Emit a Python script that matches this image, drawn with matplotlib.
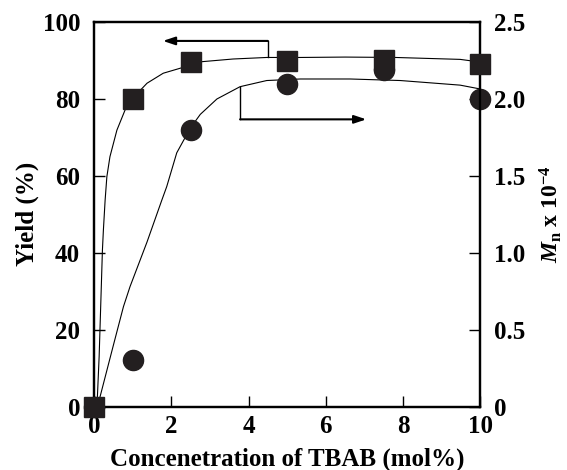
import numpy as np
import matplotlib
matplotlib.use('Agg')
import matplotlib.pyplot as plt

plt.rcParams['font.family'] = ['Liberation Serif', 'DejaVu Serif']
plt.rcParams['font.weight'] = 'bold'
plt.rcParams['mathtext.fontset'] = 'custom'
plt.rcParams['mathtext.rm'] = 'Liberation Serif:bold'
plt.rcParams['mathtext.it'] = 'Liberation Serif:bold:italic'
plt.rcParams['mathtext.bf'] = 'Liberation Serif:bold'

# measured points
tbab = [0, 1, 2.5, 5, 7.5, 10]
yield_pct = [0, 80, 89.7, 89.9, 90.1, 89.0]
mn = [0, 0.30, 1.80, 2.10, 2.19, 2.00]

# guide curves
yield_curve_x = [0, 0.085, 0.13, 0.17, 0.215, 0.24, 0.285, 0.33, 0.41, 0.59, 0.80,
                 1.0, 1.37, 1.79, 2.23, 2.79, 3.6, 4.47, 5.34, 6.5, 7.80, 9.48, 10]
yield_curve_y = [0, 2.6, 13.0, 26.0, 40.7, 45.9, 53.7, 59.8, 65.0, 71.9, 77.1,
                 80.2, 84.1, 86.7, 88.0, 89.7, 90.4, 90.8, 90.8, 90.9, 90.8, 90.3, 89.6]
mn_curve_x = [0.05, 0.155, 0.50, 0.76, 0.93, 1.37, 1.75, 1.88, 2.14, 2.49, 2.75,
              3.18, 3.78, 4.47, 5.34, 6.63, 7.93, 9.48, 10]
mn_curve_y = [0, 0.065, 0.40, 0.65, 0.78, 1.07, 1.34, 1.43, 1.65, 1.81, 1.90,
              2.00, 2.08, 2.12, 2.13, 2.13, 2.12, 2.09, 2.065]

fs = 18

fig = plt.figure(figsize=(5.67, 4.70), dpi=100)
ax = fig.add_axes([0.166, 0.135, 0.681, 0.818])
ax2 = ax.twinx()
ax.set_zorder(ax2.get_zorder() + 1)
ax.patch.set_visible(False)

# Mn on right axis
ax2.plot(mn_curve_x, mn_curve_y, color='black', lw=0.8)
ax2.plot(tbab, mn, 'o', color='#231f20', markersize=14.5, clip_on=False, zorder=5)

# yield on left axis
ax.plot(yield_curve_x, yield_curve_y, color='black', lw=0.8)
ax.plot(tbab, yield_pct, 's', color='#231f20', markersize=15, clip_on=False, zorder=5)

# arrows
ax.plot([4.5, 4.5], [90.8, 95.1], color='black', lw=1.0)
ax.annotate('', xy=(1.78, 95.1), xytext=(4.5, 95.1),
            arrowprops=dict(arrowstyle='-|>,head_length=0.6,head_width=0.2', color='black',
                            lw=1.5, mutation_scale=12, shrinkA=0, shrinkB=0))
ax.plot([3.78, 3.78], [74.7, 83.2], color='black', lw=1.0)
ax.annotate('', xy=(7.05, 74.7), xytext=(3.78, 74.7),
            arrowprops=dict(arrowstyle='-|>,head_length=0.6,head_width=0.2', color='black',
                            lw=1.5, mutation_scale=12, shrinkA=0, shrinkB=0))

ax.set_xlim(0, 10)
ax.set_ylim(0, 100)
ax2.set_ylim(0, 2.5)
ax.set_xticks([0, 2, 4, 6, 8, 10])
ax.set_yticks([0, 20, 40, 60, 80, 100])
ax2.set_yticks([0, 0.5, 1.0, 1.5, 2.0, 2.5])
ax2.set_yticklabels(['0', '0.5', '1.0', '1.5', '2.0', '2.5'])

for a in (ax, ax2):
    for s in a.spines.values():
        s.set_linewidth(1.6)
ax.tick_params(axis='x', direction='in', length=8, width=1.0, labelsize=fs, pad=6)
ax.tick_params(axis='y', direction='in', length=8, width=1.0, labelsize=fs, pad=10)
ax2.tick_params(axis='y', direction='in', length=8, width=1.0, labelsize=fs, pad=10)

ax.set_xlabel('Concenetration of TBAB (mol%)', fontsize=fs, fontweight='bold', labelpad=7)
ax.set_ylabel('Yield (%)', fontsize=fs, fontweight='bold', labelpad=3)
ax2.set_ylabel(r'$\mathit{M}_{\mathrm{n}}$ x 10$^{-4}$', fontsize=17, fontweight='bold',
               rotation=90, labelpad=9)

fig.savefig('out.png', dpi=100)
